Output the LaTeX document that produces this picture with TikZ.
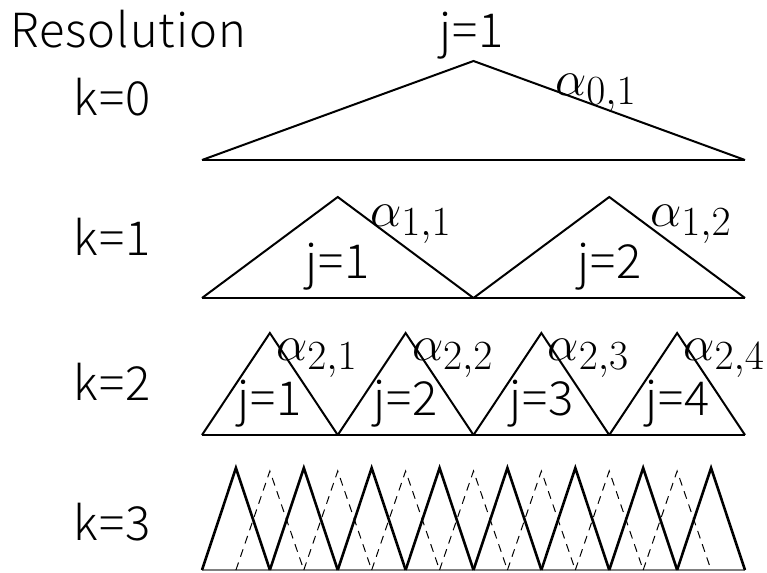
\documentclass[tikz,border=0pt]{standalone}
\usepackage{fontspec}
\setmainfont{Noto Sans CJK JP}[UprightFont=* Light, LetterSpace=2]
\begin{document}
\begin{tikzpicture}[x=0.5pt,y=-0.5pt,
    lbl/.style={font=\fontsize{23.5}{25}\selectfont, inner sep=0pt, anchor=base},
    coef/.style={font=\fontsize{28}{30}\selectfont, inner sep=0pt, anchor=base west},
    hat/.style={line width=1pt, line join=miter},
    fine hat/.style={line width=1.3pt, line join=miter},
    shift hat/.style={line width=0.5pt, dash pattern=on 4pt off 3pt}]
    \useasboundingbox (0,0) rectangle (767,573);
    \def\xl{202}
    \def\xr{745}
    \def\span{543}

    % Hat functions, rows k=0,1,2: {k}/{count}/{apex y}/{base y}
    \foreach \k/\n/\ya/\yb in {0/1/61/160, 1/2/197/298, 2/4/333/435} {
        \pgfmathsetmacro\w{\span/\n}
        \draw[hat] (\xl,\yb) -- (\xr,\yb);
        \foreach \j in {1,...,\n} {
            \draw[hat] ({\xl+(\j-1)*\w},\yb) -- ({\xl+(\j-0.5)*\w},\ya) -- ({\xl+\j*\w},\yb);
        }
    }

    % Row k=3, solid and shifted (dashed) hats
    \pgfmathsetmacro\w{\span/8}
    \draw[line width=0.6pt, gray] (\xl,570) -- (\xr,570);
    \foreach \j in {1,...,8} {
        \draw[fine hat] ({\xl+(\j-1)*\w},570) -- ({\xl+(\j-0.5)*\w},468) -- ({\xl+\j*\w},570);
    }
    \foreach \j in {1,...,7} {
        \draw[shift hat] ({\xl+(\j-0.5)*\w},570) -- ({\xl+\j*\w},471) -- ({\xl+(\j+0.5)*\w},570);
    }

    % Resolution labels
    \node[lbl, anchor=base west] (res) at (10,47) {Resolution};
    \node[lbl] (k0) at (112,115) {k=0};
    \node[lbl] (k1) at (112,255) {k=1};
    \node[lbl] (k2) at (112,400) {k=2};
    \node[lbl] (k3) at (112,540) {k=3};

    % Position labels
    \node[lbl] (j01) at (472,47) {j=1};
    \node[lbl] (j11) at (338,278) {j=1};
    \node[lbl] (j12) at (610,278) {j=2};
    \foreach \j in {1,...,4} {
        \node[lbl] (j2\j) at ({\xl+(\j-0.5)*\span/4},415) {j=\j};
    }

    % Coefficients
    \node[coef] (a01) at (555,95) {$\alpha_{0,1}$};
    \node[coef] (a11) at (370,226) {$\alpha_{1,1}$};
    \node[coef] (a12) at (650,226) {$\alpha_{1,2}$};
    \foreach \j in {1,...,4} {
        \node[coef] (a2\j) at ({\xl+(\j-0.5)*\span/4+6},360) {$\alpha_{2,\j}$};
    }
\end{tikzpicture}
\end{document}
